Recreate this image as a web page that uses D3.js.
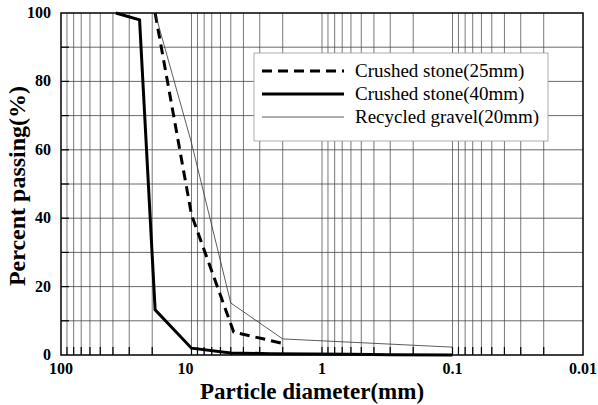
<!DOCTYPE html>
<html>
<head>
<meta charset="utf-8">
<script src="https://cdn.jsdelivr.net/npm/d3@7"></script>
<style>
    body { margin: 0; background: #fff; }
    svg { display: block; font-family: "Liberation Serif", "Times New Roman", serif; }
</style>
</head>
<body>
<svg id="svg" width="598" height="405"></svg>
<script>
    // sieve sizes (mm) and percent passing
    const sizes25 = [19, 10, 4.75, 2];
    const pass25 = [100, 41, 6.7, 3.4];
    const sizes40 = [38, 25, 19, 10, 5, 2.5, 1.2, 0.6, 0.3, 0.1];
    const pass40 = [100, 98, 13.2, 2, 0.6, 0.4, 0.3, 0.2, 0.1, 0];
    const sizesRG = [19, 10, 5, 2, 0.1];
    const passRG = [100, 62, 15.2, 4.7, 2.3];

    const xTicks = [100, 10, 1, 0.1, 0.01];
    const xTickLabels = ["100", "10", "1", "0.1", "0.01"];
    const yTicks = [0, 20, 40, 60, 80, 100];
    const legendNames = ["Crushed stone(25mm)", "Crushed stone(40mm)", "Recycled gravel(20mm)"];

    function main() {
        let svg = d3.select("#svg");
        let left = 61, right = 583, top = 13, bottom = 355;
        let x = d3.scaleLog().domain([100, 0.01]).range([left, right]);
        let y = d3.scaleLinear().domain([0, 100]).range([bottom, top]);

        // minor log positions 2..9 in each decade plus the decades
        let minor = [];
        for (let dec of [10, 1, 0.1, 0.01]) {
            for (let k = 1; k < 10; k++) {
                let v = dec * k;
                if (v < 100 && v > 0.01) minor.push(v);
            }
        }

        let grid = svg.append("g");
        grid.selectAll(".vg").data(minor).enter().append("line")
            .attr("x1", d => x(d)).attr("x2", d => x(d))
            .attr("y1", top).attr("y2", bottom)
            .attr("stroke", "#555").attr("stroke-width", 0.8);
        grid.selectAll(".hg").data(d3.range(10, 100, 10)).enter().append("line")
            .attr("x1", left).attr("x2", right)
            .attr("y1", d => y(d)).attr("y2", d => y(d))
            .attr("stroke", "#444").attr("stroke-width", 0.8);

        // inward ticks
        grid.selectAll(".bt").data(minor).enter().append("line")
            .attr("x1", d => x(d)).attr("x2", d => x(d))
            .attr("y1", bottom).attr("y2", bottom - 8)
            .attr("stroke", "#000").attr("stroke-width", 1.2);
        grid.selectAll(".lt").data(d3.range(10, 100, 10)).enter().append("line")
            .attr("x1", left).attr("x2", left + 8)
            .attr("y1", d => y(d)).attr("y2", d => y(d))
            .attr("stroke", "#000").attr("stroke-width", 1.2);

        // legend box (drawn under the curves, over the grid)
        let lg = svg.append("g");
        lg.append("rect").attr("x", 254).attr("y", 53).attr("width", 294).attr("height", 88)
            .attr("fill", "#fff").attr("stroke", "#999").attr("stroke-width", 0.8);

        let line = d3.line().x(d => x(d[0])).y(d => y(d[1]));
        let series = [
            { s: sizes25, p: pass25, w: 3, dash: "10,6", col: "#000" },
            { s: sizes40, p: pass40, w: 3, dash: null, col: "#000" },
            { s: sizesRG, p: passRG, w: 0.8, dash: null, col: "#333" }
        ];
        series.forEach((sr, i) => {
            svg.append("path")
                .attr("d", line(d3.zip(sr.s, sr.p)))
                .attr("fill", "none")
                .attr("stroke", sr.col)
                .attr("stroke-width", sr.w)
                .attr("stroke-dasharray", sr.dash);
            let ly = 71 + i * 23;
            lg.append("line").attr("x1", 262).attr("x2", 344)
                .attr("y1", ly).attr("y2", ly)
                .attr("stroke", sr.col).attr("stroke-width", sr.w)
                .attr("stroke-dasharray", sr.dash);
            lg.append("text").attr("x", 355).attr("y", ly + 6)
                .attr("font-size", 19).text(legendNames[i]);
        });

        // frame
        svg.append("rect").attr("x", left).attr("y", top)
            .attr("width", right - left).attr("height", bottom - top)
            .attr("fill", "none").attr("stroke", "#000").attr("stroke-width", 1.5);

        // tick labels
        svg.selectAll(".xl").data(xTicks).enter().append("text")
            .attr("x", d => x(d)).attr("y", 374)
            .attr("dx", d => d === 10 ? -6 : 0)
            .attr("text-anchor", "middle").attr("font-size", 16).attr("font-weight", "bold")
            .text((d, i) => xTickLabels[i]);
        svg.selectAll(".yl").data(yTicks).enter().append("text")
            .attr("x", 51).attr("y", d => y(d) + 5)
            .attr("text-anchor", "end").attr("font-size", 16).attr("font-weight", "bold")
            .text(d => d);

        // axis titles
        svg.append("text").attr("x", 312).attr("y", 399)
            .attr("text-anchor", "middle").attr("font-size", 23).attr("font-weight", "bold")
            .text("Particle diameter(mm)");
        svg.append("text").attr("transform", "translate(25,186) rotate(-90)")
            .attr("text-anchor", "middle").attr("font-size", 24).attr("font-weight", "bold")
            .text("Percent passing(%)");
    }
    main();
</script>
</body>
</html>
